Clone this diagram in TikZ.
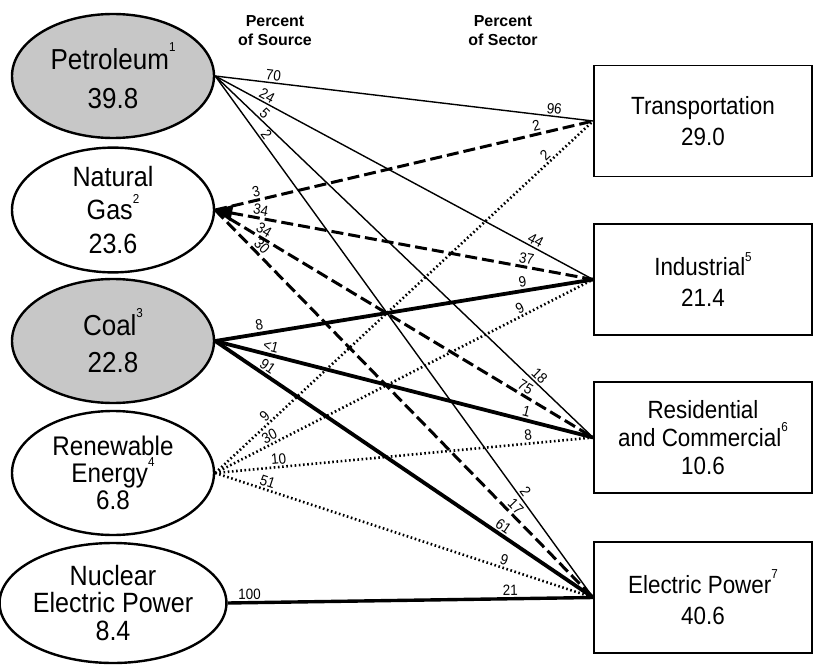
\documentclass[tikz,border=0pt]{standalone}
\usepackage{fontspec}
\setmainfont[FakeStretch=0.9]{Liberation Sans}
\newfontfamily\hdrfont{Liberation Sans}
\usetikzlibrary{shapes.geometric,arrows.meta}
\newcommand\supn[1]{\raisebox{0.6em}{\fontsize{13}{13}\selectfont #1}}
\begin{document}
\begin{tikzpicture}[x=1bp,y=-1bp,
  src/.style={ellipse, draw, line width=2.4bp, minimum width=202bp, minimum height=124bp, inner sep=0pt, align=center},
  shaded/.style={fill=black!22},
  sect/.style={rectangle, draw, line width=1.8bp, minimum width=218bp, minimum height=111bp, align=center, font=\fontsize{25}{31}\selectfont},
  pet/.style={line width=1.4bp},
  gas/.style={line width=3bp, dash pattern=on 12bp off 5bp},
  coal/.style={line width=3.8bp},
  ren/.style={line width=2.6bp, dash pattern=on 1.6bp off 2.6bp},
  nuc/.style={line width=3.4bp},
  lab/.style={font=\fontsize{15}{15}\selectfont, sloped, above, inner sep=1.5bp},
  hdr/.style={font=\hdrfont\bfseries\fontsize{16}{19}\selectfont, align=center}]
\useasboundingbox (0,0) rectangle (817,666);
% headers
\node[hdr] (hs) at (275,31) {Percent\\of Source};
\node[hdr] (hc) at (503,31) {Percent\\of Sector};
% sources
\node[src,shaded,font=\fontsize{29}{40}\selectfont] (petr) at (113,76) {Petroleum\supn{1}\\39.8};
\node[src,font=\fontsize{28}{34}\selectfont] (ngas) at (113,210) {Natural\\Gas\supn{2}\\23.6};
\node[src,shaded,font=\fontsize{29}{38}\selectfont] (coal) at (113,341) {Coal\supn{3}\\22.8};
\node[src,font=\fontsize{27}{27}\selectfont] (renw) at (113,473) {Renewable\\Energy\supn{4}\\6.8};
\node[src,minimum height=120bp,font=\fontsize{28}{28}\selectfont] (nucl) at (113,603) {Nuclear\\Electric Power\\8.4};
% sectors
\node[sect] (tr) at (703,121) {Transportation\\29.0};
\node[sect] (ind) at (703,279.5) {Industrial\supn{5}\\21.4};
\node[sect,font=\fontsize{25}{28}\selectfont] (res) at (703,437.5) {Residential\\and Commercial\supn{6}\\10.6};
\node[sect] (el) at (703,597.5) {Electric Power\supn{7}\\40.6};
% petroleum
\draw[pet] (petr.east) -- node[lab,pos=.152]{70} node[lab,pos=.895]{96} (tr.west);
\draw[pet] (petr.east) -- node[lab,pos=.128]{24} node[lab,pos=.839]{44} (ind.west);
\draw[pet] (petr.east) -- node[lab,pos=.118]{5} node[lab,pos=.845]{18} (res.west);
\draw[pet] (petr.east) -- node[lab,pos=.12]{2} node[lab,pos=.805]{2} (el.west);
% natural gas
\draw[gas] (ngas.east) -- node[lab,pos=.113]{3} node[lab,pos=.855]{2} (tr.west);
\draw[gas,{Triangle[length=17bp,width=16bp]}-] (ngas.east) -- node[lab,pos=.117]{34} node[lab,pos=.82]{37} (ind.west);
\draw[gas] (ngas.east) -- node[lab,pos=.118]{34} node[lab,pos=.81]{75} (res.west);
\draw[gas] (ngas.east) -- node[lab,pos=.108]{30} node[lab,pos=.78]{17} (el.west);
% coal
\draw[coal] (coal.east) -- node[lab,pos=.12]{8} node[lab,pos=.817]{9} (ind.west);
\draw[coal] (coal.east) -- node[lab,pos=.142]{<1} node[lab,pos=.818]{1} (res.west);
\draw[coal] (coal.east) -- node[lab,pos=.126]{91} node[lab,pos=.75]{61} (el.west);
% renewable
\draw[ren] (renw.east) -- node[lab,pos=.145]{9} node[lab,pos=.887]{2} (tr.west);
\draw[ren] (renw.east) -- node[lab,pos=.153]{30} node[lab,pos=.816]{9} (ind.west);
\draw[ren] (renw.east) -- node[lab,pos=.17]{10} node[lab,pos=.83]{8} (res.west);
\draw[ren] (renw.east) -- node[lab,pos=.132]{51} node[lab,pos=.758]{9} (el.west);
% nuclear
\draw[nuc] (nucl.east) -- node[lab,pos=.06]{100} node[lab,pos=.774]{21} (el.west);
\end{tikzpicture}
\end{document}
